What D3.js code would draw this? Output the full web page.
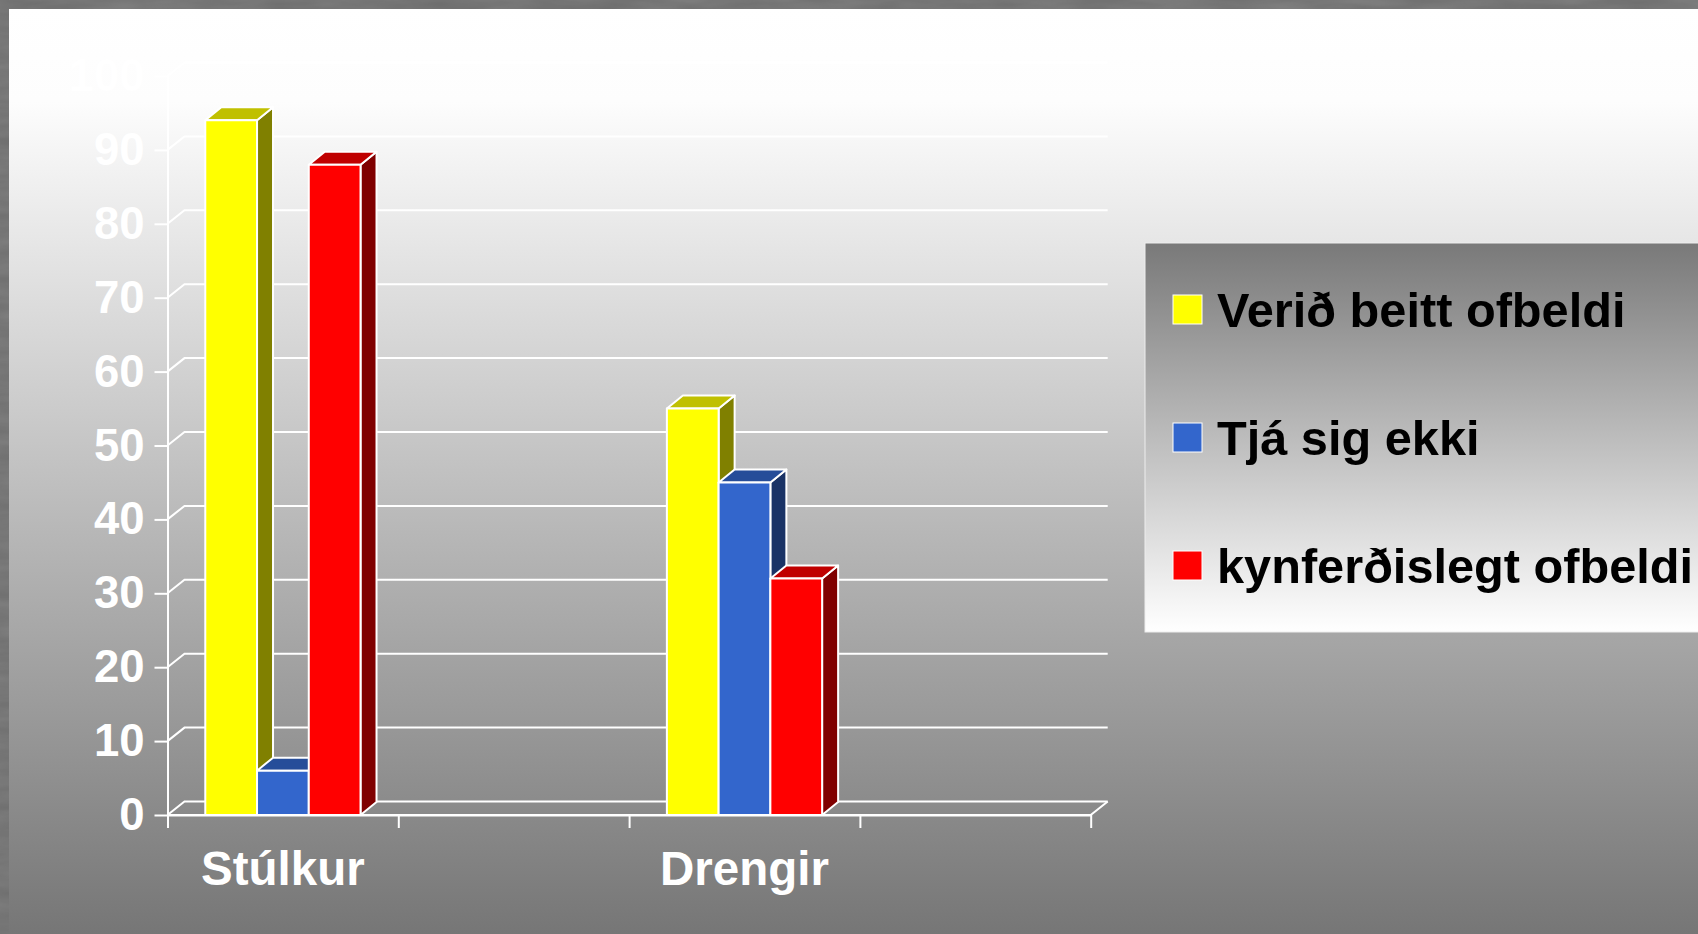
<!DOCTYPE html>
<html>
<head>
<meta charset="utf-8">
<script src="https://cdn.jsdelivr.net/npm/d3@7"></script>
<style>
body { margin: 0; background: #6c6c6c; }
svg { display: block; }
</style>
</head>
<body>
<script>
// chart data
var categories = ["Stúlkur", "", "Drengir", ""];
var seriesNames = ["Verið beitt ofbeldi", "Tjá sig ekki", "kynferðislegt ofbeldi"];
var veridBeitt = [94, null, 55, null];
var tjaSigEkki = [6, null, 45, null];
var kynferdislegt = [88, null, 32, null];
var yTicks = [0, 10, 20, 30, 40, 50, 60, 70, 80, 90, 100];

var seriesValues = [veridBeitt, tjaSigEkki, kynferdislegt];
var fronts = ["#ffff00", "#3366cc", "#ff0000"];
var tops = ["#c0c000", "#264d99", "#c00000"];
var sides = ["#808000", "#1a3366", "#800000"];

var W = 1698, H = 934;
var font = "'Liberation Sans', Arial, sans-serif";

var svg = d3.select("body").append("svg")
	.attr("width", W)
	.attr("height", H);

var defs = svg.append("defs");
var pg = defs.append("linearGradient").attr("id", "panel")
	.attr("x1", 0).attr("y1", 0).attr("x2", 0).attr("y2", 1);
pg.append("stop").attr("offset", 0).attr("stop-color", "#ffffff");
pg.append("stop").attr("offset", 0.1).attr("stop-color", "#fdfdfd");
pg.append("stop").attr("offset", 1).attr("stop-color", "#767676");

var lg = defs.append("linearGradient").attr("id", "legendbg")
	.attr("x1", 0).attr("y1", 0).attr("x2", 0).attr("y2", 1);
lg.append("stop").attr("offset", 0).attr("stop-color", "#797979");
lg.append("stop").attr("offset", 1).attr("stop-color", "#ffffff");

var tex = defs.append("filter").attr("id", "granite")
	.attr("x", 0).attr("y", 0).attr("width", 1).attr("height", 1);
tex.append("feTurbulence").attr("type", "fractalNoise")
	.attr("baseFrequency", "0.015 0.08").attr("numOctaves", 3).attr("seed", 4);
tex.append("feColorMatrix").attr("type", "matrix")
	.attr("values", "0 0 0 0 0.45  0 0 0 0 0.45  0 0 0 0 0.45  0 0 0 0.5 0");

// granite frame and gradient panel
svg.append("rect").attr("width", W).attr("height", H).attr("fill", "#6c6c6c");
svg.append("rect").attr("width", W).attr("height", H).attr("filter", "url(#granite)").attr("opacity", 0.6);
svg.append("rect").attr("x", 9).attr("y", 9).attr("width", W - 9).attr("height", H - 9)
	.attr("fill", "url(#panel)");

// scales
var x0 = 167.5, x1 = 1090.7;
var y = d3.scaleLinear().domain([0, 100]).range([815, 76]);
var xTick = d3.scaleLinear().domain([0, categories.length]).range([x0, x1]);
var xBand = d3.scaleBand().domain(d3.range(categories.length)).range([x0, x1]).paddingInner(0);
var xSeries = d3.scaleBand().domain(d3.range(seriesNames.length))
	.range([0, xBand.bandwidth()]).paddingInner(0).paddingOuter(0.73);

var wall = {dx: 17, dy: -13.5};
var bar = {dx: 16, dy: -13};

var grid = svg.append("g").attr("stroke", "#ffffff").attr("stroke-width", 2).attr("fill", "none");

// side wall diagonals and back wall gridlines
grid.selectAll("path.grid")
	.data(yTicks)
	.enter()
	.append("path")
	.attr("class", "grid")
	.attr("d", function(d){
		var yy = y(d);
		return "M" + x0 + "," + yy + "L" + (x0 + wall.dx) + "," + (yy + wall.dy) +
			"L" + (x1 + wall.dx) + "," + (yy + wall.dy);
	});

// floor front edge and right edge
grid.append("path")
	.attr("d", "M" + x0 + "," + y(0) + "L" + x1 + "," + y(0) +
		"L" + (x1 + wall.dx) + "," + (y(0) + wall.dy));

// y axis
var yAxis = d3.axisLeft(y)
	.tickValues(yTicks)
	.tickSize(13)
	.tickSizeOuter(0)
	.tickPadding(10);
var ya = svg.append("g")
	.attr("transform", "translate(" + x0 + ",0)")
	.call(yAxis);
ya.select(".domain").attr("stroke", "#ffffff").attr("stroke-width", 2);
ya.selectAll(".tick line").attr("stroke", "#ffffff").attr("stroke-width", 2);
ya.selectAll(".tick text")
	.attr("fill", "#ffffff")
	.style("font-family", font)
	.style("font-weight", "bold")
	.style("font-size", "45.5px");

// x axis ticks between categories
var xAxis = d3.axisBottom(xTick)
	.tickValues(d3.range(categories.length + 1))
	.tickSize(13)
	.tickSizeOuter(0)
	.tickFormat("");
var xa = svg.append("g")
	.attr("transform", "translate(0," + y(0) + ")")
	.call(xAxis);
xa.select(".domain").attr("stroke", "#ffffff").attr("stroke-width", 2);
xa.selectAll(".tick line").attr("stroke", "#ffffff").attr("stroke-width", 2);

svg.append("g").selectAll("text")
	.data(categories)
	.enter()
	.append("text")
	.attr("x", function(d, i){return xBand(i) + xBand.bandwidth() / 2;})
	.attr("y", 885)
	.attr("text-anchor", "middle")
	.attr("fill", "#ffffff")
	.style("font-family", font)
	.style("font-weight", "bold")
	.style("font-size", "47.5px")
	.text(function(d){return d;});

// 3d bars, drawn left to right so each front face covers the previous side
var barData = [];
categories.forEach(function(c, ci){
	seriesValues.forEach(function(vals, si){
		if (vals[ci] !== null) barData.push({c: ci, s: si, v: vals[ci]});
	});
});

var bars = svg.append("g").selectAll("g")
	.data(barData)
	.enter()
	.append("g")
	.attr("stroke", "#ffffff")
	.attr("stroke-width", 2)
	.attr("stroke-linejoin", "round");

function barBox(d){
	var l = xBand(d.c) + xSeries(d.s);
	return {l: l, r: l + xSeries.bandwidth(), t: y(d.v), b: y(0)};
}

bars.append("path")
	.attr("fill", function(d){return sides[d.s];})
	.attr("d", function(d){
		var k = barBox(d);
		return "M" + k.r + "," + k.b + "L" + (k.r + bar.dx) + "," + (k.b + bar.dy) +
			"L" + (k.r + bar.dx) + "," + (k.t + bar.dy) + "L" + k.r + "," + k.t + "Z";
	});
bars.append("path")
	.attr("fill", function(d){return tops[d.s];})
	.attr("d", function(d){
		var k = barBox(d);
		return "M" + k.l + "," + k.t + "L" + (k.l + bar.dx) + "," + (k.t + bar.dy) +
			"L" + (k.r + bar.dx) + "," + (k.t + bar.dy) + "L" + k.r + "," + k.t + "Z";
	});
bars.append("rect")
	.attr("fill", function(d){return fronts[d.s];})
	.attr("x", function(d){return barBox(d).l;})
	.attr("y", function(d){return barBox(d).t;})
	.attr("width", xSeries.bandwidth())
	.attr("height", function(d){var k = barBox(d); return k.b - k.t;});

// legend
var legend = svg.append("g");
legend.append("rect")
	.attr("x", 1145).attr("y", 243)
	.attr("width", W - 1145 + 5).attr("height", 389)
	.attr("fill", "url(#legendbg)")
	.attr("stroke", "#eeeeee").attr("stroke-width", 1);

var items = legend.selectAll("g.item")
	.data(seriesNames)
	.enter()
	.append("g")
	.attr("class", "item")
	.attr("transform", function(d, i){return "translate(1173," + (327 + i * 128) + ")";});
items.append("rect")
	.attr("x", 0).attr("y", -32)
	.attr("width", 29).attr("height", 29)
	.attr("fill", function(d, i){return fronts[i];})
	.attr("stroke", "#ffffff").attr("stroke-width", 1);
items.append("text")
	.attr("x", 44).attr("y", 0)
	.attr("fill", "#000000")
	.style("font-family", font)
	.style("font-weight", "bold")
	.style("font-size", "48.7px")
	.text(function(d){return d;});
</script>
</body>
</html>
